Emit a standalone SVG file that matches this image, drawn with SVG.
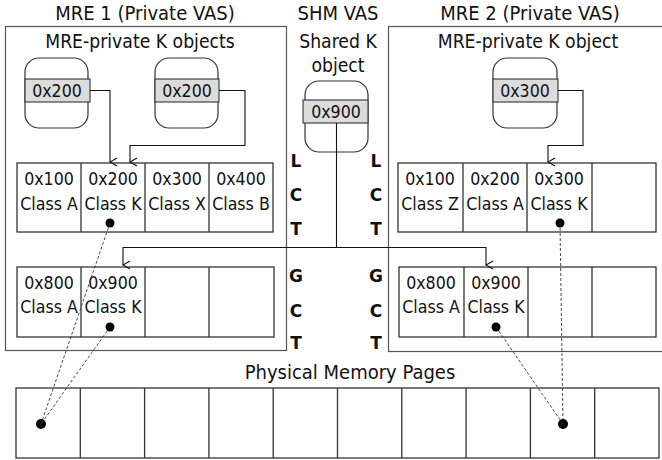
<svg xmlns="http://www.w3.org/2000/svg" width="662" height="460" viewBox="0 0 662 460">
<defs>
<style>
text{font-family:"DejaVu Sans Condensed","DejaVu Sans",Verdana,sans-serif;fill:#111}
.title{font-size:20px;text-anchor:middle}
.sub{font-size:19.2px;text-anchor:middle}
.cell{font-size:17.6px;text-anchor:middle}
.lct{font-family:"DejaVu Sans",sans-serif;font-size:17px;font-weight:bold;text-anchor:middle}
.frame{fill:none;stroke:#555;stroke-width:1.2}
.tbl{fill:#fff;stroke:#333;stroke-width:1.3}
.obj{fill:#fff;stroke:#333;stroke-width:1.2}
.band{fill:#dcdcdc;stroke:#333;stroke-width:1.1}
.conn{fill:none;stroke:#111;stroke-width:1.1}
.dash{fill:none;stroke:#333;stroke-width:0.9;stroke-dasharray:3 2}
.dot{fill:#000}
</style>
<marker id="arr" markerWidth="10" markerHeight="10" refX="5" refY="9" orient="auto-start-reverse" markerUnits="userSpaceOnUse" viewBox="0 0 10 10">
<path d="M1,2 L5,9 L9,2" fill="none" stroke="#111" stroke-width="1.2"/>
</marker>
</defs>

<g id="mre1">
<rect class="frame" x="5.5" y="26.5" width="281" height="324"/>
<text class="title" x="145" y="20">MRE 1 (Private VAS)</text>
<text class="sub" x="140" y="48">MRE-private K objects</text>
</g>
<g id="shm">
<text class="title" x="338" y="20">SHM VAS</text>
<text class="sub" x="338" y="48">Shared K</text>
<text class="sub" x="338" y="72">object</text>
</g>
<g id="mre2">
<rect class="frame" x="388.5" y="26.5" width="290" height="325"/>
<text class="title" x="530" y="20">MRE 2 (Private VAS)</text>
<text class="sub" x="528" y="48">MRE-private K object</text>
</g>

<g id="kobj1">
<rect class="obj" x="25" y="58" width="63" height="70" rx="14"/>
<rect class="band" x="25" y="79" width="65" height="23"/>
<text class="cell" x="57" y="97">0x200</text>
</g>
<g id="kobj2">
<rect class="obj" x="155" y="58" width="63" height="70" rx="14"/>
<rect class="band" x="155" y="79" width="64" height="23"/>
<text class="cell" x="187" y="97">0x200</text>
</g>
<g id="kshared">
<rect class="obj" x="305" y="81" width="63" height="71" rx="14"/>
<rect class="band" x="303" y="100" width="65" height="23"/>
<text class="cell" x="336" y="118">0x900</text>
</g>
<g id="kobj3">
<rect class="obj" x="493" y="58" width="64" height="70" rx="14"/>
<rect class="band" x="493" y="79" width="65" height="23"/>
<text class="cell" x="525" y="97">0x300</text>
</g>

<g id="lct1">
<rect class="tbl" x="17" y="163" width="256" height="69"/>
<path class="tbl" d="M81,163V232M145,163V232M209,163V232"/>
<text class="cell" x="49" y="185">0x100</text><text class="cell" x="49" y="210">Class A</text>
<text class="cell" x="113" y="185">0x200</text><text class="cell" x="113" y="210">Class K</text>
<text class="cell" x="177" y="185">0x300</text><text class="cell" x="177" y="210">Class X</text>
<text class="cell" x="241" y="185">0x400</text><text class="cell" x="241" y="210">Class B</text>
<circle class="dot" cx="110" cy="223" r="4.5"/>
</g>
<g id="gct1">
<rect class="tbl" x="17" y="267" width="257" height="70"/>
<path class="tbl" d="M81,267V337M145,267V337M209,267V337"/>
<text class="cell" x="49" y="289">0x800</text><text class="cell" x="49" y="313">Class A</text>
<text class="cell" x="113" y="289">0x900</text><text class="cell" x="113" y="313">Class K</text>
<circle class="dot" cx="110" cy="327" r="4.5"/>
</g>
<g id="lct2">
<rect class="tbl" x="398" y="163" width="258" height="69"/>
<path class="tbl" d="M463,163V232M527,163V232M592,163V232"/>
<text class="cell" x="430" y="185">0x100</text><text class="cell" x="430" y="210">Class Z</text>
<text class="cell" x="495" y="185">0x200</text><text class="cell" x="495" y="210">Class A</text>
<text class="cell" x="559" y="185">0x300</text><text class="cell" x="559" y="210">Class K</text>
<circle class="dot" cx="560" cy="223" r="4.5"/>
</g>
<g id="gct2">
<rect class="tbl" x="399" y="267" width="257" height="70"/>
<path class="tbl" d="M464,267V337M528,267V337M592,267V337"/>
<text class="cell" x="431" y="289">0x800</text><text class="cell" x="431" y="313">Class A</text>
<text class="cell" x="496" y="289">0x900</text><text class="cell" x="496" y="313">Class K</text>
<circle class="dot" cx="496" cy="327" r="4.5"/>
</g>

<g id="labels">
<text class="lct" x="296" y="167">L</text>
<text class="lct" x="296" y="201">C</text>
<text class="lct" x="296" y="235">T</text>
<text class="lct" x="296" y="282">G</text>
<text class="lct" x="296" y="317">C</text>
<text class="lct" x="296" y="349">T</text>
<text class="lct" x="376" y="167">L</text>
<text class="lct" x="376" y="201">C</text>
<text class="lct" x="376" y="235">T</text>
<text class="lct" x="376" y="282">G</text>
<text class="lct" x="376" y="317">C</text>
<text class="lct" x="376" y="349">T</text>
</g>

<g id="physical">
<text class="title" x="350" y="379">Physical Memory Pages</text>
<rect class="tbl" x="16" y="388" width="643" height="70"/>
<path class="tbl" d="M80.3,388V458M144.6,388V458M208.9,388V458M273.2,388V458M337.5,388V458M401.8,388V458M466.1,388V458M530.4,388V458M594.7,388V458"/>
<circle class="dot" cx="41" cy="424" r="5"/>
<circle class="dot" cx="563" cy="424" r="5"/>
</g>

<g id="connectors">
<path class="conn" d="M90,90.5H110V162" marker-end="url(#arr)"/>
<path class="conn" d="M219,90.5H245V145.5H130V162" marker-end="url(#arr)"/>
<path class="conn" d="M558,90.5H583V145.5H548V162" marker-end="url(#arr)"/>
<path class="conn" d="M336.5,123V247.5H123V265" marker-end="url(#arr)"/>
<path class="conn" d="M336.5,247.5H486V265" marker-end="url(#arr)"/>
<path class="dash" d="M110,223L41,424"/>
<path class="dash" d="M110,327L41,424"/>
<path class="dash" d="M560,223L563,424"/>
<path class="dash" d="M496,327L563,424"/>
</g>
</svg>
